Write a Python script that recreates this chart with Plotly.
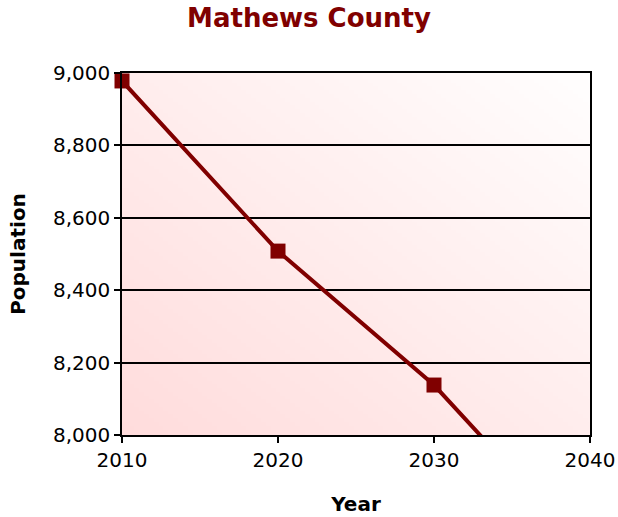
import base64, struct, zlib
import plotly.graph_objects as go

years = [2010, 2020, 2030, 2040]
population = [8978, 8508, 8138, 7670]
x_ticks = [2010, 2020, 2030, 2040]
y_ticks = [8000, 8200, 8400, 8600, 8800, 9000]

DARK_RED = "#800000"


def gradient_png(w=96, h=96, c0=(255, 220, 220), c1=(255, 254, 254)):
    rows = b""
    for j in range(h):
        row = b"\x00"
        for i in range(w):
            t = (i / (w - 1) + (1 - j / (h - 1))) / 2
            px = bytes(int(round(a + (b - a) * t)) for a, b in zip(c0, c1))
            row += px
        rows += row

    def chunk(tag, data):
        c = tag + data
        return struct.pack(">I", len(data)) + c + struct.pack(">I", zlib.crc32(c) & 0xFFFFFFFF)

    png = b"\x89PNG\r\n\x1a\n"
    png += chunk(b"IHDR", struct.pack(">IIBBBBB", w, h, 8, 2, 0, 0, 0))
    png += chunk(b"IDAT", zlib.compress(rows, 9))
    png += chunk(b"IEND", b"")
    return "data:image/png;base64," + base64.b64encode(png).decode()


fig = go.Figure()
fig.add_trace(go.Scatter(
    x=years, y=population, mode="lines+markers",
    line=dict(color=DARK_RED, width=4),
    marker=dict(symbol="square", size=15, color=DARK_RED),
    cliponaxis=False, hoverinfo="x+y", showlegend=False,
))

fig.add_layout_image(dict(
    source=gradient_png(), xref="paper", yref="paper", x=0, y=1,
    sizex=1, sizey=1, sizing="stretch", layer="below", xanchor="left", yanchor="top",
))

font = "DejaVu Sans, Verdana, sans-serif"
fig.update_layout(
    width=618, height=517,
    margin=dict(l=122, r=28, t=73, b=82),
    paper_bgcolor="white", plot_bgcolor="rgba(0,0,0,0)",
    title=dict(text="<b>Mathews County</b>", x=0.5, xanchor="center", y=0.965, yanchor="middle",
               font=dict(family=font, size=26, color=DARK_RED)),
    font=dict(family=font, size=20, color="black"),
    xaxis=dict(range=[2010, 2040], tickvals=x_ticks, showgrid=False, zeroline=False,
               showline=True, mirror=True, linecolor="black", linewidth=1.5,
               ticks="outside", ticklen=6, tickwidth=1.5, tickcolor="black", automargin=False,
               title=dict(text="<b>Year</b>", font=dict(size=20), standoff=26)),
    yaxis=dict(range=[8000, 9000], tickvals=y_ticks, tickformat=",", showgrid=True,
               gridcolor="black", gridwidth=1.5, zeroline=False,
               showline=True, mirror=True, linecolor="black", linewidth=1.5,
               ticks="outside", ticklen=6, tickwidth=1.5, tickcolor="black",
               title=dict(text="<b>Population</b>", font=dict(size=20), standoff=22)),
)

fig.write_html("out.html", config={"displayModeBar": False},
               post_script="document.body.style.margin='0px';document.body.style.overflow='hidden';")
